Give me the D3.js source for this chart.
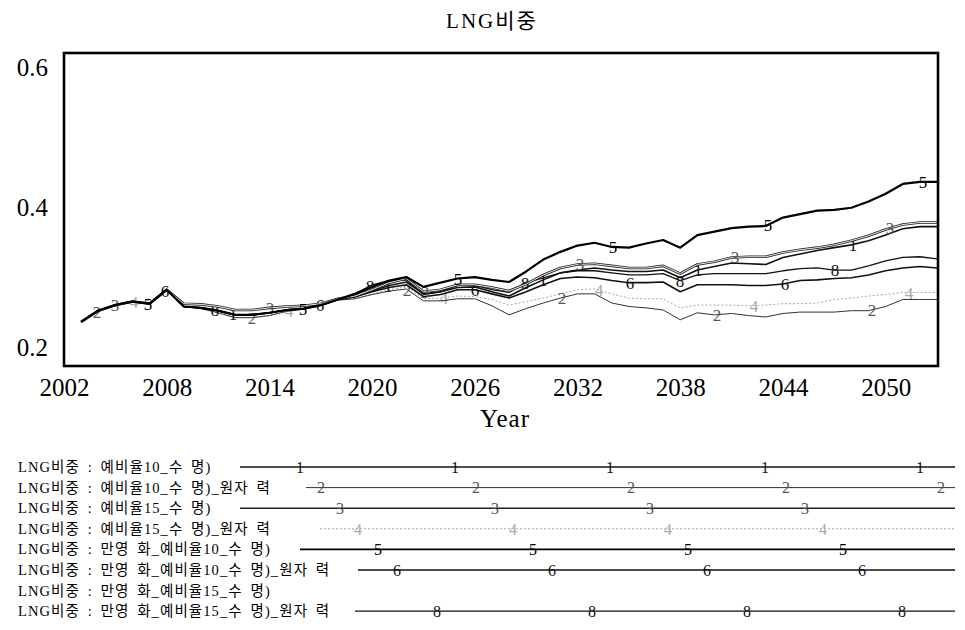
<!DOCTYPE html>
<html>
<head>
<meta charset="utf-8">
<script src="https://cdn.jsdelivr.net/npm/d3@7"></script>
<style>
  body { margin: 0; background: #fff; }
  text { font-family: "Liberation Serif", "Noto Sans CJK KR", serif; }
</style>
</head>
<body>
<script>
// years 2003..2053, one value per year
const startYear = 2003;
const years = d3.range(startYear, 2054);
const xTicks = [2002, 2008, 2014, 2020, 2026, 2032, 2038, 2044, 2050];
const yTicks = [0.2, 0.4, 0.6];

// shared history 2003-2018
const history = [0.237, 0.253, 0.261, 0.266, 0.263, 0.283, 0.259, 0.257, 0.253, 0.247, 0.247, 0.250, 0.254, 0.256, 0.261, 0.269];
const history2 = [0.237, 0.253, 0.261, 0.266, 0.263, 0.283, 0.259, 0.256, 0.250, 0.243, 0.243, 0.246, 0.252, 0.255, 0.260, 0.268];
const history3 = [0.237, 0.253, 0.261, 0.266, 0.263, 0.283, 0.263, 0.262, 0.259, 0.254, 0.254, 0.257, 0.259, 0.260, 0.263, 0.270];

// 2019-2053
const s1 = history.concat([0.273, 0.281, 0.289, 0.294, 0.277, 0.280, 0.286, 0.287, 0.280, 0.274, 0.286, 0.297, 0.307, 0.311, 0.314, 0.311, 0.309, 0.309, 0.311, 0.300, 0.311, 0.316, 0.321, 0.320, 0.319, 0.329, 0.334, 0.339, 0.343, 0.347, 0.353, 0.361, 0.370, 0.373, 0.373]);
const s2 = history2.concat([0.270, 0.276, 0.281, 0.284, 0.267, 0.267, 0.270, 0.270, 0.260, 0.247, 0.256, 0.264, 0.271, 0.277, 0.277, 0.264, 0.259, 0.257, 0.254, 0.240, 0.250, 0.247, 0.249, 0.246, 0.244, 0.249, 0.251, 0.251, 0.251, 0.253, 0.253, 0.259, 0.269, 0.269, 0.269]);
const s3 = history3.concat([0.274, 0.283, 0.293, 0.299, 0.280, 0.283, 0.290, 0.290, 0.286, 0.281, 0.291, 0.304, 0.314, 0.319, 0.320, 0.317, 0.314, 0.314, 0.317, 0.306, 0.319, 0.323, 0.329, 0.330, 0.330, 0.336, 0.340, 0.343, 0.347, 0.353, 0.360, 0.369, 0.376, 0.379, 0.379]);
const s4 = history2.concat([0.271, 0.277, 0.283, 0.287, 0.270, 0.271, 0.274, 0.273, 0.269, 0.261, 0.266, 0.271, 0.277, 0.283, 0.284, 0.277, 0.271, 0.270, 0.270, 0.257, 0.261, 0.261, 0.261, 0.260, 0.261, 0.263, 0.263, 0.264, 0.269, 0.271, 0.274, 0.276, 0.279, 0.279, 0.279]);
const s5 = history.concat([0.277, 0.287, 0.296, 0.301, 0.287, 0.293, 0.299, 0.301, 0.297, 0.294, 0.309, 0.326, 0.337, 0.346, 0.350, 0.344, 0.343, 0.349, 0.354, 0.343, 0.361, 0.366, 0.371, 0.373, 0.374, 0.386, 0.391, 0.396, 0.397, 0.400, 0.409, 0.420, 0.434, 0.437, 0.437]);
const s6 = history.concat([0.273, 0.280, 0.286, 0.290, 0.273, 0.276, 0.283, 0.283, 0.277, 0.271, 0.280, 0.290, 0.299, 0.301, 0.300, 0.296, 0.293, 0.293, 0.294, 0.280, 0.290, 0.290, 0.290, 0.289, 0.289, 0.291, 0.296, 0.297, 0.299, 0.300, 0.304, 0.310, 0.314, 0.316, 0.314]);
const s7 = null; // not drawn in the picture
const s8 = history.concat([0.277, 0.290, 0.296, 0.297, 0.276, 0.280, 0.289, 0.289, 0.283, 0.279, 0.293, 0.300, 0.307, 0.310, 0.310, 0.307, 0.304, 0.304, 0.306, 0.296, 0.304, 0.306, 0.306, 0.306, 0.306, 0.310, 0.313, 0.314, 0.311, 0.311, 0.317, 0.324, 0.329, 0.330, 0.327]);

const seriesNames = [
  "LNG비중 : 예비율10_수 명)",
  "LNG비중 : 예비율10_수 명)_원자 력",
  "LNG비중 : 예비율15_수 명)",
  "LNG비중 : 예비율15_수 명)_원자 력",
  "LNG비중 : 만영 화_예비율10_수 명)",
  "LNG비중 : 만영 화_예비율10_수 명)_원자 력",
  "LNG비중 : 만영 화_예비율15_수 명)",
  "LNG비중 : 만영 화_예비율15_수 명)_원자 력"
];
const seriesValues = [s1, s2, s3, s4, s5, s6, s7, s8];

// look of each line: stroke, width, dash, double line, marker colour,
// marker offsets in plot / legend (px), legend line start (px)
const looks = [
  { stroke: "#111", w: 1.6, dash: null, dbl: false, mk: "#111", plotOff: 78, legOff: 300, legX: 240 },
  { stroke: "#333", w: 1.0, dash: null, dbl: false, mk: "#555", plotOff: 97, legOff: 321, legX: 306 },
  { stroke: "#222", w: 2.6, dash: null, dbl: true, mk: "#555", plotOff: 115, legOff: 340, legX: 240 },
  { stroke: "#aaa", w: 1.0, dash: "2,2", dbl: false, mk: "#aaa", plotOff: 134, legOff: 358, legX: 320 },
  { stroke: "#000", w: 2.2, dash: null, dbl: false, mk: "#000", plotOff: 148, legOff: 378, legX: 300 },
  { stroke: "#111", w: 1.6, dash: null, dbl: false, mk: "#111", plotOff: 165, legOff: 397, legX: 358 },
  { stroke: "#eee", w: 1.0, dash: null, dbl: false, mk: "#eee", plotOff: 195, legOff: 417, legX: 330 },
  { stroke: "#111", w: 1.3, dash: null, dbl: false, mk: "#111", plotOff: 215, legOff: 437, legX: 355 }
];
const markStep = 155;

const W = 965, H = 630;
const frame = { left: 64, right: 938, top: 53, bottom: 366 };

const svg = d3.select("body").append("svg")
  .attr("width", W)
  .attr("height", H);

const x = d3.scaleLinear().domain([2002, 2053]).range([frame.left, frame.right - 1]);
const y = d3.scaleLinear().domain([0.174, 0.621]).range([frame.bottom, frame.top]);

// title
svg.append("text")
  .attr("x", 492).attr("y", 28)
  .attr("text-anchor", "middle")
  .attr("font-size", 21)
  .attr("letter-spacing", 2)
  .text("LNG비중");

// axes (labels only, like the original)
const xAxis = svg.append("g")
  .attr("transform", "translate(0," + frame.bottom + ")")
  .call(d3.axisBottom(x).tickValues(xTicks).tickSize(0).tickPadding(12).tickFormat(d3.format("d")));
xAxis.select(".domain").remove();
xAxis.selectAll("text").attr("font-size", 25).attr("font-family", "Liberation Serif").attr("fill", "#000");

const yAxis = svg.append("g")
  .attr("transform", "translate(" + frame.left + ",0)")
  .call(d3.axisLeft(y).tickValues(yTicks).tickSize(0).tickPadding(16).tickFormat(d3.format(".1f")));
yAxis.select(".domain").remove();
yAxis.selectAll("text").attr("font-size", 25).attr("font-family", "Liberation Serif").attr("fill", "#000");

svg.append("text")
  .attr("x", 505).attr("y", 427)
  .attr("text-anchor", "middle")
  .attr("font-size", 25)
  .attr("letter-spacing", 1)
  .text("Year");

// lines
const line = d3.line()
  .x((d, i) => x(years[i]))
  .y(d => y(d));

function valueAtPx(vals, px) {
  const t = x.invert(px) - startYear;
  const i = Math.max(0, Math.min(vals.length - 2, Math.floor(t)));
  const f = t - i;
  return vals[i] + (vals[i + 1] - vals[i]) * f;
}

const plot = svg.append("g");
const drawOrder = [3, 1, 7, 5, 0, 2, 4];
drawOrder.forEach(k => {
  const vals = seriesValues[k];
  const lk = looks[k];
  const p = plot.append("path")
    .datum(vals)
    .attr("fill", "none")
    .attr("stroke", lk.stroke)
    .attr("stroke-width", lk.w)
    .attr("stroke-linejoin", "round")
    .attr("d", line);
  if (lk.dash) p.attr("stroke-dasharray", lk.dash);
  if (lk.dbl) {
    plot.append("path")
      .datum(vals)
      .attr("fill", "none")
      .attr("stroke", "#fff")
      .attr("stroke-width", 0.9)
      .attr("d", line);
  }
  // number markers along the line
  const xEnd = x(years[years.length - 1]);
  for (let px = lk.plotOff; px <= xEnd; px += markStep) {
    if (px < x(startYear)) continue;
    plot.append("text")
      .attr("x", px)
      .attr("y", y(valueAtPx(vals, px)))
      .attr("dy", "0.36em")
      .attr("text-anchor", "middle")
      .attr("font-family", "Liberation Sans, Arial, sans-serif")
      .attr("font-size", 17)
      .attr("fill", lk.mk)
      .text(k + 1);
  }
});

// frame
svg.append("rect")
  .attr("x", frame.left).attr("y", frame.top)
  .attr("width", frame.right - frame.left)
  .attr("height", frame.bottom - frame.top)
  .attr("fill", "none")
  .attr("stroke", "#000")
  .attr("stroke-width", 2.6);

// legend
const legY0 = 467, legStep = 20.6, legEnd = 955;
const leg = svg.append("g");
seriesNames.forEach((name, k) => {
  const ly = legY0 + k * legStep;
  leg.append("text")
    .attr("x", 18).attr("y", ly)
    .attr("dy", "0.35em")
    .attr("font-size", 14.5)
    .attr("letter-spacing", 1.1)
    .attr("word-spacing", 3)
    .attr("fill", "#000")
    .text(name);
  const lk = looks[k];
  if (!seriesValues[k]) return;
  const x0 = lk.legX;
  const l = leg.append("line")
    .attr("x1", x0).attr("x2", legEnd)
    .attr("y1", ly).attr("y2", ly)
    .attr("stroke", lk.stroke)
    .attr("stroke-width", Math.min(lk.w, 1.6));
  if (lk.dash) l.attr("stroke-dasharray", lk.dash);
  for (let px = lk.legOff; px <= legEnd + 4; px += markStep) {
    if (px < x0) continue;
    leg.append("text")
      .attr("x", px).attr("y", ly)
      .attr("dy", "0.36em")
      .attr("text-anchor", "middle")
      .attr("font-family", "Liberation Sans, Arial, sans-serif")
      .attr("font-size", 16)
      .attr("fill", lk.mk)
      .text(k + 1);
  }
});
</script>
</body>
</html>
